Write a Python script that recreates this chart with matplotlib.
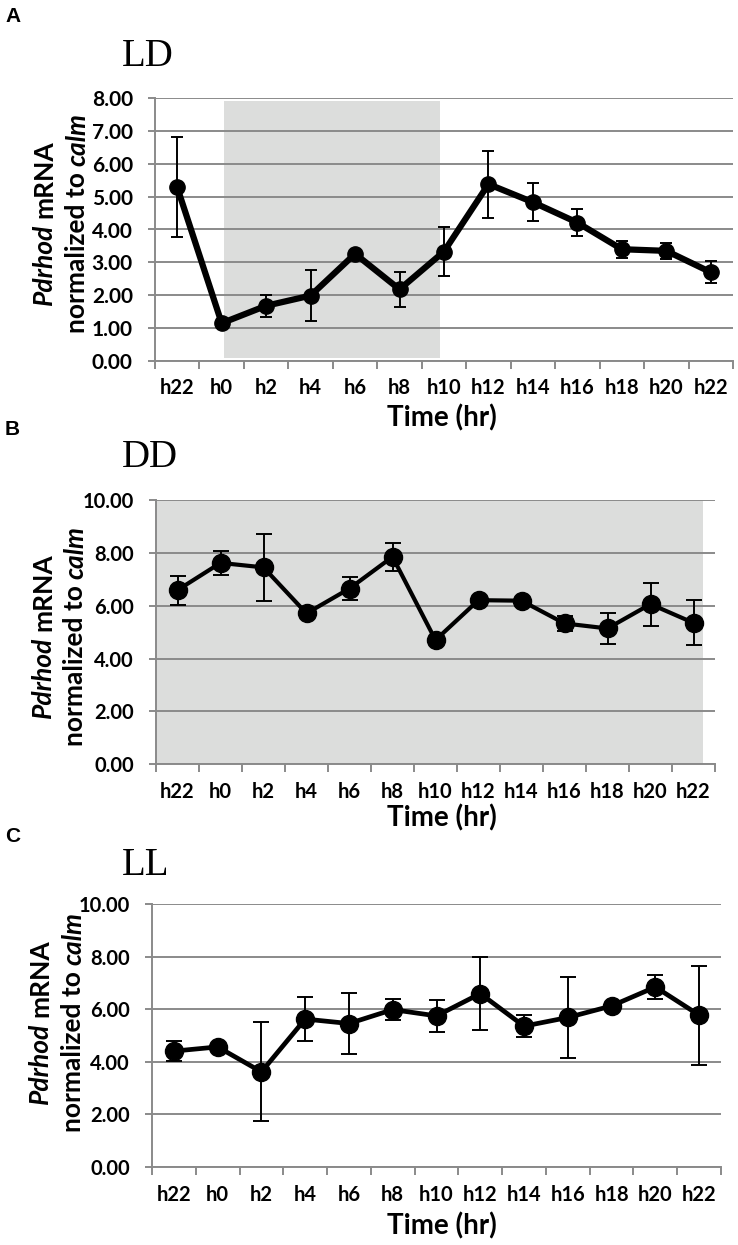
import numpy as np
import matplotlib
matplotlib.use("Agg")
import matplotlib.pyplot as plt
from matplotlib.ticker import FormatStrFormatter, MultipleLocator

# ========= Data =========
TIME_LABELS = ["h22", "h0", "h2", "h4", "h6", "h8", "h10",
               "h12", "h14", "h16", "h18", "h20", "h22"]

LD_MEAN = [5.28, 1.15, 1.68, 1.99, 3.26, 2.18, 3.33, 5.38, 4.83, 4.21, 3.40, 3.35, 2.70]
LD_ERR = [1.52, 0.08, 0.34, 0.78, 0.10, 0.53, 0.74, 1.02, 0.58, 0.40, 0.26, 0.25, 0.34]

DD_MEAN = [6.59, 7.62, 7.45, 5.71, 6.65, 7.85, 4.70, 6.21, 6.19, 5.33, 5.14, 6.06, 5.35]
DD_ERR = [0.55, 0.44, 1.26, 0.10, 0.42, 0.53, 0.10, 0.10, 0.10, 0.27, 0.58, 0.81, 0.85]

LL_MEAN = [4.40, 4.56, 3.61, 5.62, 5.45, 5.98, 5.74, 6.59, 5.35, 5.68, 6.12, 6.84, 5.77]
LL_ERR = [0.38, 0.10, 1.88, 0.85, 1.16, 0.40, 0.62, 1.38, 0.41, 1.53, 0.10, 0.45, 1.88]

# ========= Style =========
plt.rcParams['font.family'] = ['Lato', 'DejaVu Sans']
plt.rcParams['font.weight'] = 'bold'

W, H = 738, 1245
GRAY = '#8a8a8a'
SHADE = '#dcdddc'

fig = plt.figure(figsize=(W / 100, H / 100), dpi=100)


def fx(px):
    return px / W


def fy(py):
    return 1 - py / H


def stacked_ylabel(cx, cy, pieces, size):
    # rotated label made of pieces with different styles, centred at (cx, cy) in pixels
    renderer = fig.canvas.get_renderer()
    widths = []
    for txt, style in pieces:
        t = fig.text(0, 0, txt, fontsize=size, fontweight='bold', fontstyle=style)
        widths.append(t.get_window_extent(renderer).width)
        t.remove()
    gap = 0.22 * size * fig.dpi / 72
    total = sum(widths) + gap * (len(pieces) - 1)
    y = cy + total / 2
    for (txt, style), w in zip(pieces, widths):
        fig.text(fx(cx), fy(y), txt, fontsize=size, fontweight='bold', fontstyle=style,
                 rotation=90, rotation_mode='anchor', ha='left', va='center')
        y -= w + gap


def draw_panel(rect, mean, err, ymax, ystep, shade, lw, ms, cap, ytick_size,
               letter, letter_y, title, title_y, ylab_x, ylab_y, time_y, tick_pad):
    ax = fig.add_axes([fx(rect[0]), fy(rect[3]), (rect[2] - rect[0]) / W, (rect[3] - rect[1]) / H])
    x = np.arange(len(TIME_LABELS))

    if shade is not None:
        ax.fill_between([shade[0], shade[1]], shade[2], shade[3], color=SHADE, lw=0, zorder=0.2)

    ax.errorbar(x, mean, yerr=err, fmt='none', ecolor='black', elinewidth=1.4,
                capsize=cap, capthick=1.4, zorder=3)
    ax.plot(x, mean, color='black', lw=lw, marker='o', ms=ms, zorder=4)

    ax.set_xlim(-0.5, len(TIME_LABELS) - 0.5)
    ax.set_ylim(0, ymax)
    ax.yaxis.set_major_locator(MultipleLocator(ystep))
    ax.yaxis.set_major_formatter(FormatStrFormatter('%.2f'))
    ax.set_axisbelow(True)
    ax.yaxis.grid(True, color=GRAY, lw=1.4)

    ax.set_xticks(x)
    ax.set_xticklabels(TIME_LABELS, fontsize=14.5, fontweight='bold')
    ax.set_xticks(np.arange(-0.5, len(TIME_LABELS)), minor=True)
    ax.tick_params(axis='x', which='major', length=0, pad=tick_pad)
    ax.tick_params(axis='x', which='minor', length=6, width=1.4, color=GRAY)
    ax.tick_params(axis='y', length=5, width=1.4, color=GRAY, pad=11, labelsize=ytick_size)

    for side in ['top', 'right']:
        ax.spines[side].set_visible(False)
    for side in ['left', 'bottom']:
        ax.spines[side].set_color(GRAY)
        ax.spines[side].set_linewidth(1.4)

    fig.text(fx(5), fy(letter_y), letter, fontsize=15, fontweight='bold',
             family='Liberation Sans', va='baseline')
    fig.text(fx(122), fy(title_y), title, fontsize=28, fontweight='normal',
             family='Liberation Serif', va='baseline')
    fig.text(fx(442), fy(time_y), "Time (hr)", fontsize=20, fontweight='bold',
             ha='center', va='center')

    stacked_ylabel(ylab_x[0], ylab_y, [("Pdrhod", 'italic'), ("mRNA", 'normal')], 19)
    stacked_ylabel(ylab_x[1], ylab_y, [("normalized to", 'normal'), ("calm", 'italic')], 19)
    return ax


# ========= Panels =========
draw_panel((155, 98, 733, 361), LD_MEAN, LD_ERR, 8, 1, (1.05, 5.9, 0.08, 7.9),
           4.5, 11, 4.5, 15, "A", 22, "LD", 66, (44, 77), 223, 418, 12)

draw_panel((156, 500, 715, 764.3), DD_MEAN, DD_ERR, 10, 2, (-0.5, 12.22, 0, 10),
           3.0, 13, 6, 14.5, "B", 435, "DD", 467, (43, 75), 636, 818, 12.5)

draw_panel((152, 904, 721, 1166.7), LL_MEAN, LL_ERR, 10, 2, None,
           3.4, 13, 5.5, 14.5, "C", 842, "LL", 875, (40, 73), 1022, 1226, 13)

fig.savefig("out.png", dpi=100)
